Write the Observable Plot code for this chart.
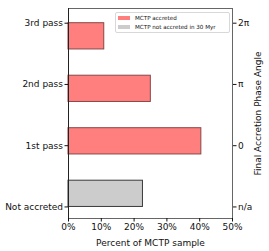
<!DOCTYPE html>
<html>
<head>
<meta charset="utf-8">
<script src="https://cdn.jsdelivr.net/npm/d3@7"></script>
<script src="https://cdn.jsdelivr.net/npm/@observablehq/plot@0.6"></script>
<style>
  html, body { margin: 0; padding: 0; background: #fff; }
  #wrap { position: relative; width: 269px; height: 251px; font-family: "DejaVu Sans", sans-serif; }
  #legend { position: absolute; left: 115px; top: 12px; width: 113px; height: 19px;
    border: 1px solid #d8d8d8; border-radius: 2px; background: rgba(255,255,255,0.85);
    font-size: 5.6px; color: #111; }
  .item { position: absolute; left: 2px; height: 7px; display: flex; align-items: center; white-space: nowrap; }
  .sw { width: 12px; height: 4px; margin-right: 5px; }
</style>
</head>
<body>
<div id="wrap"></div>
<script>
const categories = ["Not accreted", "1st pass", "2nd pass", "3rd pass"];
const percents = [22.7, 40.5, 25.1, 10.9];
const groups = ["not", "acc", "acc", "acc"];
const rightLabels = ["n/a", "0", "\u03c0", "2\u03c0"];
const tickPositions = [-0.25, 0.9167, 2.0833, 3.25];
const xTicks = [0, 10, 20, 30, 40, 50];
const legendLabels = ["MCTP accreted", "MCTP not accreted in 30 Myr"];

const data = categories.map((c, i) => ({cat: c, i, value: percents[i], group: groups[i]}));
const fillOf = {acc: "#ff7f7f", not: "#cccccc"};
const strokeOf = {acc: "#8a4545", not: "#3a3a3a"};

const chart = Plot.plot({
  width: 269,
  height: 251,
  marginLeft: 68,
  marginRight: 37,
  marginTop: 8,
  marginBottom: 33,
  style: {fontFamily: "DejaVu Sans, sans-serif", fontSize: "9px", color: "#111", background: "#fff"},
  x: {domain: [0, 50]},
  y: {domain: [-0.47, 3.53]},
  marks: [
    Plot.rect(data, {
      x1: 0, x2: "value",
      y1: d => d.i - 0.25, y2: d => d.i + 0.25,
      fill: d => fillOf[d.group],
      stroke: d => strokeOf[d.group],
      strokeWidth: 1
    }),
    Plot.frame({stroke: "#666", strokeWidth: 1}),
    Plot.ruleX([0], {stroke: "#222"}),
    Plot.axisX({ticks: xTicks, tickFormat: d => d + "%", tickSize: 3.5, tickPadding: 2,
      label: "Percent of MCTP sample", labelAnchor: "center", labelArrow: "none", labelOffset: 27,
      fontSize: 9}),
    Plot.axisY({anchor: "left", ticks: tickPositions, tickFormat: (d, k) => categories[k],
      tickSize: 3.5, tickPadding: 2, label: null, fontSize: 9}),
    Plot.axisY({anchor: "right", ticks: tickPositions, tickFormat: (d, k) => rightLabels[k],
      tickSize: 3.5, tickPadding: 2, label: "Final Accretion Phase Angle", labelAnchor: "center",
      labelArrow: "none", labelOffset: 28, fontSize: 9})
  ]
});

const wrap = document.getElementById("wrap");
wrap.appendChild(chart);

const legend = document.createElement("div");
legend.id = "legend";
legendLabels.forEach((lab, k) => {
  const it = document.createElement("div");
  it.className = "item";
  it.style.top = (k === 0 ? 1.5 : 10.5) + "px";
  const sw = document.createElement("span");
  sw.className = "sw";
  sw.style.background = k === 0 ? fillOf.acc : fillOf.not;
  const tx = document.createElement("span");
  tx.textContent = lab;
  it.appendChild(sw); it.appendChild(tx);
  legend.appendChild(it);
});
wrap.appendChild(legend);
</script>
</body>
</html>
